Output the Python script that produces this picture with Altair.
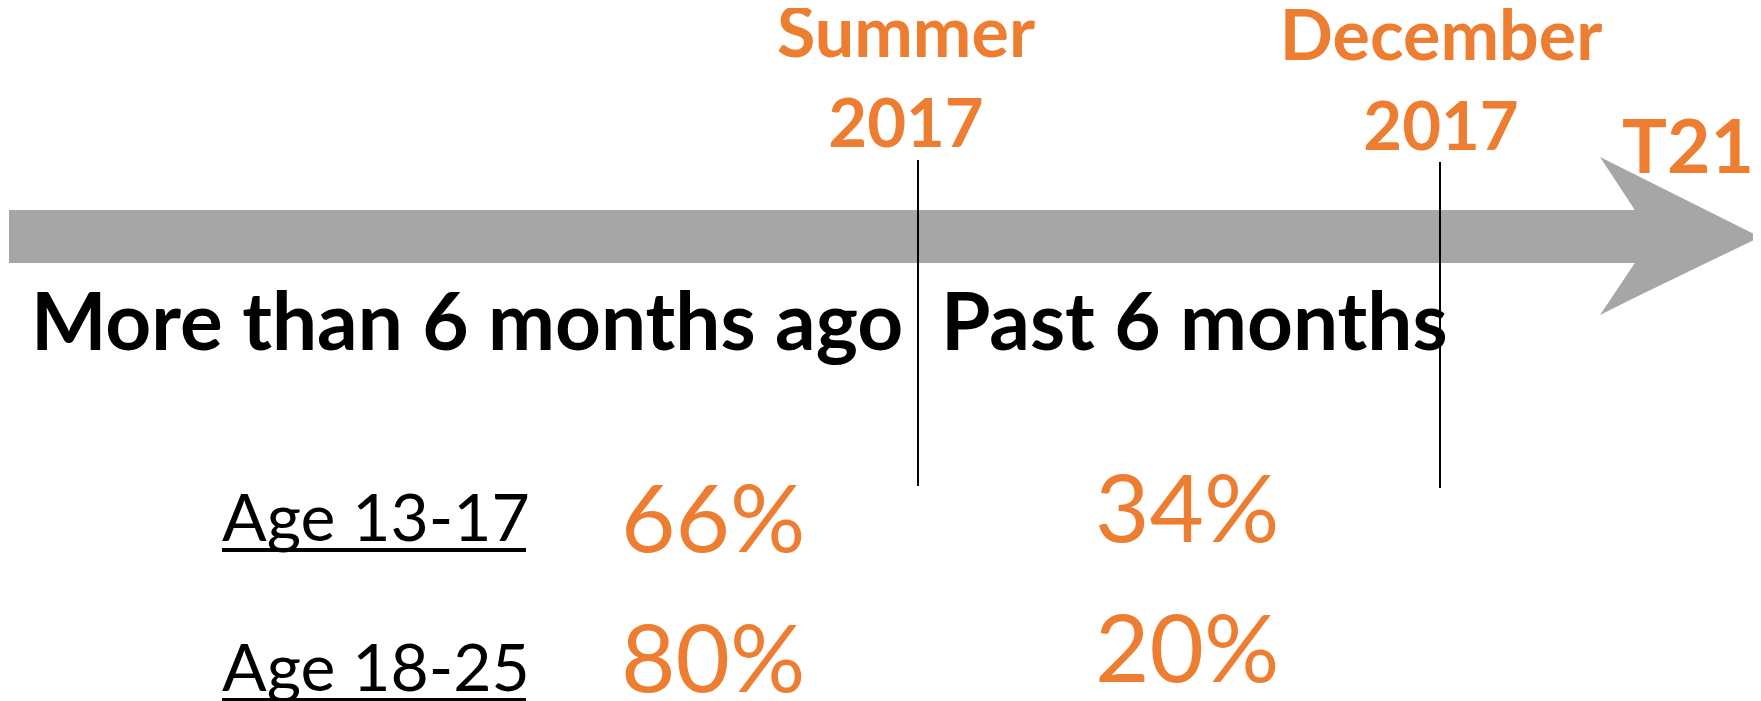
import altair as alt
import pandas as pd

# ---- data ----
milestones = ["Summer", "December", "T21"]
milestone_years = ["2017", "2017", ""]
periods = ["More than 6 months ago", "Past 6 months"]
age_groups = ["Age 13-17", "Age 18-25"]
more_than_6_months = [66, 80]
past_6_months = [34, 20]

# ---- layout (pixel space of the page) ----
ORANGE = "#ED7D31"
GRAY = "#A6A6A6"
FONT = "Lato"
W, H = 1745, 693
XD = [8, 8 + W]
YD = [8, 8 + H]

ms_x = [906, 1441, 1688]
ms_name_y = [57, 60, 173]
ms_year_y = [147, 150, None]
ms_size = [70, 70, 75]
year_size = 67
divider_x = [918, 1440]
divider_y = [(160, 486), (162, 488)]
period_x = [31, 941]
period_y = 350
age_x = 222
age_y = [541, 691]
pct_x = [621, 1095]
pct_y = [[552, 542], [692, 682]]

xs = alt.Scale(domain=XD, nice=False, zero=False)
ys = alt.Scale(domain=YD, nice=False, zero=False, reverse=True)

def X(f="x"):
    return alt.X(f"{f}:Q", scale=xs, axis=None)

def Y(f="y"):
    return alt.Y(f"{f}:Q", scale=ys, axis=None)

# arrow
shaft = pd.DataFrame({"x": [9], "x2": [1636], "y": [210], "y2": [263]})
shaft_layer = alt.Chart(shaft).mark_rect(color=GRAY).encode(
    x=X(), x2="x2:Q", y=Y(), y2="y2:Q")

head = pd.DataFrame({
    "piece": ["tri", "tri", "up", "up", "lo", "lo"],
    "x": [1635, 1760, 1600, 1635.5, 1600, 1635.5],
    "y": [174.5, 237, 157, 174.7, 315, 262],
    "y2": [297.5, 237, 157, 211, 315, 297.3],
})
head_layer = alt.Chart(head).mark_area(color=GRAY, opacity=1).encode(
    x=X(), y=Y(), y2="y2:Q", detail="piece:N")

# divider lines
div = pd.DataFrame({"x": divider_x, "y": [a for a, b in divider_y],
                    "y2": [b for a, b in divider_y]})
div_layer = alt.Chart(div).mark_rule(color="black", strokeWidth=2).encode(
    x=X(), y=Y(), y2="y2:Q")

# milestone labels
rows = []
for i, name in enumerate(milestones):
    rows.append({"t": name, "x": ms_x[i], "y": ms_name_y[i], "s": ms_size[i]})
    if milestone_years[i]:
        rows.append({"t": milestone_years[i], "x": ms_x[i], "y": ms_year_y[i], "s": year_size})
ms_layer = alt.Chart(pd.DataFrame(rows)).mark_text(
    font=FONT, fontWeight="bold", color=ORANGE, align="center", baseline="alphabetic"
).encode(x=X(), y=Y(), text="t:N", size=alt.Size("s:Q", scale=None, legend=None))

# period labels
per = pd.DataFrame({"t": periods, "x": period_x, "y": [period_y] * 2})
per_layer = alt.Chart(per).mark_text(
    font=FONT, fontWeight="bold", color="black", align="left", baseline="alphabetic",
    fontSize=80).encode(x=X(), y=Y(), text="t:N")

# age labels + underline
age = pd.DataFrame({"t": age_groups, "x": [age_x] * 2, "y": age_y})
age_layer = alt.Chart(age).mark_text(
    font=FONT, fontWeight="normal", color="black", align="left", baseline="alphabetic",
    fontSize=66).encode(x=X(), y=Y(), text="t:N")
ul = pd.DataFrame({"x": [age_x] * 2, "x2": [526] * 2, "y": [y + 9 for y in age_y]})
ul_layer = alt.Chart(ul).mark_rule(color="black", strokeWidth=4).encode(
    x=X(), x2="x2:Q", y=Y())

# percentages
prow = []
for i in range(len(age_groups)):
    prow.append({"t": f"{more_than_6_months[i]}%", "x": pct_x[0], "y": pct_y[i][0]})
    prow.append({"t": f"{past_6_months[i]}%", "x": pct_x[1], "y": pct_y[i][1]})
pct_layer = alt.Chart(pd.DataFrame(prow)).mark_text(
    font=FONT, fontWeight="normal", color=ORANGE, align="left", baseline="alphabetic",
    fontSize=94).encode(x=X(), y=Y(), text="t:N")

chart = alt.layer(
    shaft_layer, head_layer, div_layer, ms_layer, per_layer, age_layer, ul_layer, pct_layer
).properties(
    width=W, height=H, padding=0,
    autosize=alt.AutoSizeParams(type="none"),
).configure_view(stroke=None)

chart.save("out.html", embed_options={"renderer": "svg", "actions": False})
